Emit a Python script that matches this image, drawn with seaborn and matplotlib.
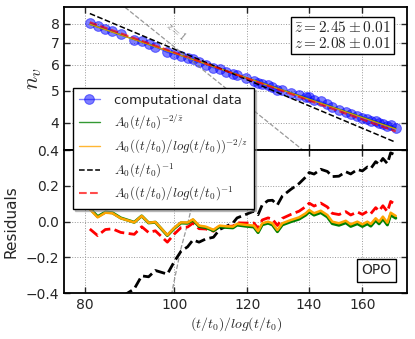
import matplotlib
matplotlib.use("Agg")
import matplotlib.pyplot as plt
import numpy as np
import pandas as pd
import seaborn as sns
from matplotlib.ticker import FixedLocator, FixedFormatter, NullLocator


sns.set_style("ticks")
plt.rcParams["font.family"] = ["DejaVu Sans"]
plt.rcParams["mathtext.fontset"] = "cm"
plt.rcParams["xtick.direction"] = "in"
plt.rcParams["ytick.direction"] = "in"
plt.rcParams["xtick.top"] = True
plt.rcParams["ytick.right"] = True

# (t/t0)/log(t/t0) positions of the data points
x_vals = [81.0, 82.6, 84.2, 85.7, 87.5, 90.5, 92.2, 93.8, 95.4, 98.3,
          100.0, 101.7, 103.4, 104.8, 106.4, 108.2, 110.3, 112.0, 113.9, 115.8,
          117.0, 119.6, 122.0, 123.3, 124.6, 126.4, 127.8, 129.4, 131.0, 133.8,
          136.6, 138.9, 140.1, 141.8, 144.2, 146.6, 148.4, 150.9, 153.5, 155.4,
          158.0, 160.0, 162.0, 163.4, 165.4, 166.8, 168.4, 170.3, 171.7, 173.9]

# residuals of the data against the A0((t/t0)/log(t/t0))^(-2/z) fit
resid_orange = [0.069, 0.024, 0.050, 0.047, 0.019, -0.004, 0.032, -0.006, -0.002, -0.075,
                -0.035, -0.004, -0.005, 0.013, -0.022, -0.028, -0.045, -0.022, -0.026, -0.028,
                -0.012, -0.018, -0.022, -0.053, -0.009, 0.000, -0.009, -0.047, -0.009, 0.009,
                0.024, 0.047, 0.065, 0.047, 0.061, 0.037, 0.000, -0.009, 0.005, -0.015,
                0.000, -0.015, 0.000, -0.013, 0.019, 0.000, 0.028, -0.006, 0.050, 0.032]

# fitted power laws: (amplitude at x = 81, exponent)
X0 = 81.0
green_fit = (7.955, 0.955)
orange_fit = (7.96, 0.96)
black_fit = (8.58, 1.18)
red_fit = (8.07, 1.00)
guide_fit = (10.92, 2.25)   # the "z=1" guide line

x_ticks = [80, 100, 120, 140, 160]
n_ticks = [4, 5, 6, 7, 8]
res_ticks = [-0.4, -0.2, 0.0, 0.2, 0.4]


def power(x, amp, expo):
    return amp * (x / X0) ** (-expo)


x = np.array(x_vals)
df = pd.DataFrame({"x": x})
df["data"] = power(x, *orange_fit) + np.array(resid_orange)
for name, fit in [("green", green_fit), ("orange", orange_fit), ("black", black_fit),
                  ("red", red_fit), ("guide", guide_fit)]:
    df[name] = power(x, *fit)
    df["res_" + name] = df["data"] - df[name]

fig = plt.figure(figsize=(4.15, 3.39), dpi=100)
ax1 = fig.add_axes([0.155, 0.5575, 0.8265, 0.4227])
ax2 = fig.add_axes([0.155, 0.1348, 0.8265, 0.4227])

# top panel
sns.lineplot(data=df, x="x", y="data", ax=ax1, color="b", marker="o", ms=7, mec="b",
             alpha=0.5, lw=1, label="computational data", sort=False)
sns.lineplot(data=df, x="x", y="green", ax=ax1, color="g", lw=1, alpha=0.8,
             label=r"$A_0(t/t_0)^{-2/\bar{z}}$", sort=False)
sns.lineplot(data=df, x="x", y="orange", ax=ax1, color="orange", lw=1, alpha=0.8,
             label=r"$A_0((t/t_0)/log(t/t_0))^{-2/z}$", sort=False)
sns.lineplot(data=df, x="x", y="black", ax=ax1, color="k", lw=1.1, ls="--",
             label=r"$A_0(t/t_0)^{-1}$", sort=False)
sns.lineplot(data=df, x="x", y="red", ax=ax1, color="r", lw=1.5, ls="--", alpha=0.7,
             label=r"$A_0((t/t_0)/log(t/t_0)^{-1}$", sort=False)
sns.lineplot(data=df, x="x", y="guide", ax=ax1, color="gray", lw=0.9, ls="--", alpha=0.8,
             sort=False)
ax1.text(100.5, 7.6, r"$z=1$", color="gray", fontsize=7.5, rotation=-40,
         ha="center", va="center")

handles, labels = ax1.get_legend_handles_labels()
if ax1.get_legend() is not None:
    ax1.get_legend().remove()

ax1.set_xscale("log")
ax1.set_yscale("log")
ax1.set_xlim(76, 179)
ax1.set_ylim(3.3, 9.0)
ax1.yaxis.set_major_locator(FixedLocator(n_ticks))
ax1.yaxis.set_major_formatter(FixedFormatter([str(v) for v in n_ticks]))
ax1.yaxis.set_minor_locator(NullLocator())
ax1.xaxis.set_major_locator(FixedLocator(x_ticks))
ax1.xaxis.set_minor_locator(NullLocator())
ax1.set_xticklabels([])
ax1.set_xlabel("")
ax1.set_ylabel(r"$n_v$", fontsize=16)
ax1.yaxis.set_label_coords(-0.06, 0.5)
ax1.text(0.952, 0.905, "$\\bar{z}=2.45\\pm0.01$\n$z=2.08\\pm0.01$", transform=ax1.transAxes,
         ha="right", va="top", fontsize=11, linespacing=1.05,
         bbox=dict(boxstyle="square,pad=0.22", fc="white", ec="black", lw=1))

# residual panel
sns.lineplot(data=df, x="x", y="res_guide", ax=ax2, color="gray", lw=0.9, ls="--", alpha=0.8,
             sort=False)
sns.lineplot(data=df, x="x", y="res_black", ax=ax2, color="k", lw=2, ls="--", sort=False)
sns.lineplot(data=df, x="x", y="res_red", ax=ax2, color="r", lw=2, ls="--", sort=False)
sns.lineplot(data=df, x="x", y="res_green", ax=ax2, color="g", lw=2.2, sort=False)
sns.lineplot(data=df, x="x", y="res_orange", ax=ax2, color="orange", lw=1.8, sort=False)
if ax2.get_legend() is not None:
    ax2.get_legend().remove()

ax2.set_xscale("log")
ax2.set_xlim(76, 179)
ax2.set_ylim(-0.4, 0.4)
ax2.xaxis.set_major_locator(FixedLocator(x_ticks))
ax2.xaxis.set_major_formatter(FixedFormatter([str(v) for v in x_ticks]))
ax2.xaxis.set_minor_locator(NullLocator())
ax2.yaxis.set_major_locator(FixedLocator(res_ticks))
ax2.set_yticklabels(["\u22120.4", "\u22120.2", "0.0", "0.2", "0.4"])
ax2.set_xlabel(r"$(t/t_0)/log(t/t_0)$", fontsize=10)
ax2.xaxis.set_label_coords(0.5, -0.15)
ax2.set_ylabel("Residuals", fontsize=11)
ax2.yaxis.set_label_coords(-0.135, 0.5)
ax2.text(0.91, 0.16, "OPO", transform=ax2.transAxes, ha="center", va="center", fontsize=10,
         bbox=dict(boxstyle="square,pad=0.3", fc="white", ec="black", lw=1))

for ax in (ax1, ax2):
    ax.grid(True, which="major", ls=":", color="#999999", lw=0.7)
    ax.tick_params(labelsize=10, length=4, width=1, which="major")
    for sp in ax.spines.values():
        sp.set_linewidth(1.3)
        sp.set_color("black")

fig.legend(handles, labels, loc="upper left", bbox_to_anchor=(73 / 415, 1 - 88 / 339),
           bbox_transform=fig.transFigure, borderaxespad=0, fontsize=9.4, frameon=True,
           fancybox=False, shadow={"ox": 1.5, "oy": -1.5, "color": "0.55"},
           edgecolor="black", framealpha=1,
           handlelength=1.6, handletextpad=1.1, labelspacing=0.4, borderpad=0.45)

fig.savefig("out.png", dpi=100)
